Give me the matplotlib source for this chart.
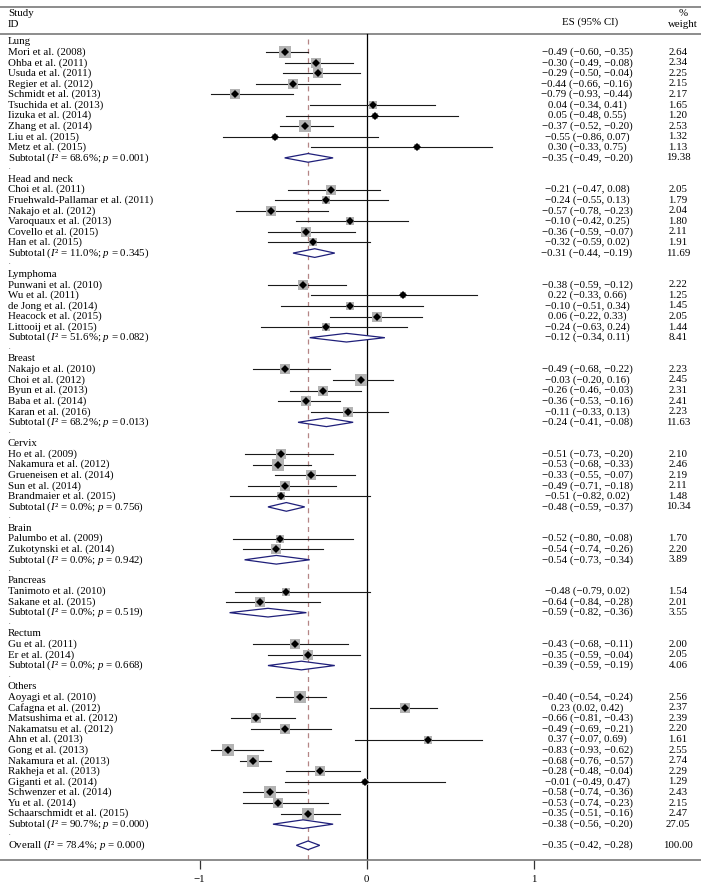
import matplotlib
matplotlib.use("Agg")
import matplotlib.pyplot as plt
from matplotlib.patches import Polygon

# ---------------- data ----------------
group_names = ["Lung", "Head and neck", "Lymphoma", "Breast", "Cervix",
               "Brain", "Pancreas", "Rectum", "Others"]
group_sizes = [10, 6, 5, 5, 5, 2, 2, 2, 12]

study_labels = [
    "Mori et al. (2008)", "Ohba et al. (2011)", "Usuda et al. (2011)", "Regier et al. (2012)",
    "Schmidt et al. (2013)", "Tsuchida et al. (2013)", "Iizuka et al. (2014)", "Zhang et al. (2014)",
    "Liu et al. (2015)", "Metz et al. (2015)",
    "Choi et al. (2011)", "Fruehwald-Pallamar et al. (2011)", "Nakajo et al. (2012)",
    "Varoquaux et al. (2013)", "Covello et al. (2015)", "Han et al. (2015)",
    "Punwani et al. (2010)", "Wu et al. (2011)", "de Jong et al. (2014)", "Heacock et al. (2015)",
    "Littooij et al. (2015)",
    "Nakajo et al. (2010)", "Choi et al. (2012)", "Byun et al. (2013)", "Baba et al. (2014)",
    "Karan et al. (2016)",
    "Ho et al. (2009)", "Nakamura et al. (2012)", "Grueneisen et al. (2014)", "Sun et al. (2014)",
    "Brandmaier et al. (2015)",
    "Palumbo et al. (2009)", "Zukotynski et al. (2014)",
    "Tanimoto et al. (2010)", "Sakane et al. (2015)",
    "Gu et al. (2011)", "Er et al. (2014)",
    "Aoyagi et al. (2010)", "Cafagna et al. (2012)", "Matsushima et al. (2012)",
    "Nakamatsu et al. (2012)", "Ahn et al. (2013)", "Gong et al. (2013)", "Nakamura et al. (2013)",
    "Rakheja et al. (2013)", "Giganti et al. (2014)", "Schwenzer et al. (2014)", "Yu et al. (2014)",
    "Schaarschmidt et al. (2015)",
]
es = [-0.49, -0.30, -0.29, -0.44, -0.79, 0.04, 0.05, -0.37, -0.55, 0.30,
      -0.21, -0.24, -0.57, -0.10, -0.36, -0.32,
      -0.38, 0.22, -0.10, 0.06, -0.24,
      -0.49, -0.03, -0.26, -0.36, -0.11,
      -0.51, -0.53, -0.33, -0.49, -0.51,
      -0.52, -0.54,
      -0.48, -0.64,
      -0.43, -0.35,
      -0.40, 0.23, -0.66, -0.49, 0.37, -0.83, -0.68, -0.28, -0.01, -0.58, -0.53, -0.35]
ci_low = [-0.60, -0.49, -0.50, -0.66, -0.93, -0.34, -0.48, -0.52, -0.86, -0.33,
          -0.47, -0.55, -0.78, -0.42, -0.59, -0.59,
          -0.59, -0.33, -0.51, -0.22, -0.63,
          -0.68, -0.20, -0.46, -0.53, -0.33,
          -0.73, -0.68, -0.55, -0.71, -0.82,
          -0.80, -0.74,
          -0.79, -0.84,
          -0.68, -0.59,
          -0.54, 0.02, -0.81, -0.69, -0.07, -0.93, -0.76, -0.48, -0.49, -0.74, -0.74, -0.51]
ci_high = [-0.35, -0.08, -0.04, -0.16, -0.44, 0.41, 0.55, -0.20, 0.07, 0.75,
           0.08, 0.13, -0.23, 0.25, -0.07, 0.02,
           -0.12, 0.66, 0.34, 0.33, 0.24,
           -0.22, 0.16, -0.03, -0.16, 0.13,
           -0.20, -0.33, -0.07, -0.18, 0.02,
           -0.08, -0.26,
           0.02, -0.28,
           -0.11, -0.04,
           -0.24, 0.42, -0.43, -0.21, 0.69, -0.62, -0.57, -0.04, 0.47, -0.36, -0.23, -0.16]
weight = [2.64, 2.34, 2.25, 2.15, 2.17, 1.65, 1.20, 2.53, 1.32, 1.13,
          2.05, 1.79, 2.04, 1.80, 2.11, 1.91,
          2.22, 1.25, 1.45, 2.05, 1.44,
          2.23, 2.45, 2.31, 2.41, 2.23,
          2.10, 2.46, 2.19, 2.11, 1.48,
          1.70, 2.20,
          1.54, 2.01,
          2.00, 2.05,
          2.56, 2.37, 2.39, 2.20, 1.61, 2.55, 2.74, 2.29, 1.29, 2.43, 2.15, 2.47]

sub_es = [-0.35, -0.31, -0.12, -0.24, -0.48, -0.54, -0.59, -0.39, -0.38]
sub_low = [-0.49, -0.44, -0.34, -0.41, -0.59, -0.73, -0.82, -0.59, -0.56]
sub_high = [-0.20, -0.19, 0.11, -0.08, -0.37, -0.34, -0.36, -0.19, -0.20]
sub_weight = [19.38, 11.69, 8.41, 11.63, 10.34, 3.89, 3.55, 4.06, 27.05]
sub_i2 = ["68.6", "11.0", "51.6", "68.2", "0.0", "0.0", "0.0", "0.0", "90.7"]
sub_p = ["0.001", "0.345", "0.082", "0.013", "0.756", "0.942", "0.519", "0.668", "0.000"]

overall_es, overall_low, overall_high, overall_weight = -0.35, -0.42, -0.28, 100.00
overall_i2, overall_p = "78.4", "0.000"

x_ticks = [-1, 0, 1]
x_ticklabels = ["\u22121", "0", "1"]

# ---------------- style ----------------
plt.rcParams["font.family"] = ["Liberation Serif", "DejaVu Serif"]
plt.rcParams["mathtext.fontset"] = "custom"
plt.rcParams["mathtext.rm"] = "Liberation Serif"
plt.rcParams["mathtext.it"] = "Liberation Serif:italic"
FS = 7.8
W, H = 701, 888
fig = plt.figure(figsize=(W / 100, H / 100), dpi=100)

# pixel geometry
px0, pxu = 366.5, 167.0           # x pixel of 0 and pixels per unit
row1, rowh = 41.55, 10.576         # y pixel of first row and row height
top_px, bot_px = 6.7, 860.0
ax = fig.add_axes([0, (H - bot_px) / H, 1, (bot_px - top_px) / H])
ax.set_xlim(-px0 / pxu, (W - px0) / pxu)
def prow(p):
    return 1 + (p - row1) / rowh
ax.set_ylim(prow(bot_px), prow(top_px))
for s in ["left", "right"]:
    ax.spines[s].set_visible(False)
for s in ["top", "bottom"]:
    ax.spines[s].set_color("#6e6e6e")
    ax.spines[s].set_linewidth(1.1)
ax.set_yticks([])
ax.set_xticks(x_ticks)
ax.set_xticklabels(x_ticklabels, fontsize=FS)
ax.tick_params(axis="x", direction="out", length=6.5, width=0.9, color="#333333", pad=4.5)

def fmt(v):
    return f"{v:.2f}".replace("-", "\u2212")

def es_text(e, l, h):
    return f"{fmt(e)} ({fmt(l)}, {fmt(h)})"

x_lab = 8 / pxu - px0 / pxu
x_es = (587 - px0) / pxu
x_w = (678 - px0) / pxu
sq_col = "#b3b3b3"
dia_col = "#1f1f7a"

# headers
ax.text(x_lab, prow(13.5), "Study", fontsize=FS, va="center", ha="left")
ax.text(x_lab, prow(24.5), "ID", fontsize=FS, va="center", ha="left")
ax.text((590 - px0) / pxu, prow(22.5), "ES (95% CI)", fontsize=FS, va="center", ha="center")
ax.text((683 - px0) / pxu, prow(13.5), "%", fontsize=FS, va="center", ha="center")
ax.text((683 - px0) / pxu, prow(24.5), "weight", fontsize=FS, va="center", ha="center")

# header line and reference lines
ax.axhline(prow(33.7), color="#6e6e6e", lw=1.1)
ax.plot([0, 0], [prow(33.7), prow(bot_px)], color="black", lw=0.9)
ax.plot([overall_es, overall_es], [prow(39), prow(bot_px)], color="#b58585", lw=0.9,
        dashes=(4, 3.5))

row = 1
k = 0
for g, name in enumerate(group_names):
    ax.text(x_lab, row, name, fontsize=FS, va="center", ha="left")
    row += 1
    for j in range(group_sizes[g]):
        ax.plot([ci_low[k], ci_high[k]], [row, row], color="#1a1a1a", lw=0.8, zorder=2)
        side_px = 1.3 + 4.0 * weight[k]
        ax.plot(es[k], row, marker="s", markersize=side_px * 0.72, color=sq_col,
                markeredgewidth=0, linestyle="none", zorder=3)
        ax.plot(es[k], row, marker="D", markersize=3.6, color="black",
                markeredgewidth=0, linestyle="none", zorder=4)
        ax.text(x_lab, row, study_labels[k], fontsize=FS, va="center", ha="left")
        ax.text(x_es, row, es_text(es[k], ci_low[k], ci_high[k]), fontsize=FS,
                va="center", ha="center")
        ax.text(x_w, row, f"{weight[k]:.2f}", fontsize=FS, va="center", ha="center")
        row += 1
        k += 1
    # subtotal
    h = 0.41
    ax.add_patch(Polygon([(sub_low[g], row), (sub_es[g], row - h), (sub_high[g], row),
                          (sub_es[g], row + h)], closed=True, facecolor="white",
                         edgecolor=dia_col, lw=0.9, zorder=3))
    ax.text(x_lab, row, f"Subtotal ($I$\u00b2 = {sub_i2[g]}%; $p$ = {sub_p[g]})",
            fontsize=FS, va="center", ha="left")
    ax.text(x_es, row, es_text(sub_es[g], sub_low[g], sub_high[g]), fontsize=FS,
            va="center", ha="center")
    ax.text(x_w, row, f"{sub_weight[g]:.2f}", fontsize=FS, va="center", ha="center")
    row += 1
    ax.text(x_lab + 1 / pxu, row - 0.1, ".", fontsize=4.5, va="center", ha="left")
    row += 1

# overall
h = 0.41
ax.add_patch(Polygon([(overall_low, row), (overall_es, row - h), (overall_high, row),
                      (overall_es, row + h)], closed=True, facecolor="white",
                     edgecolor=dia_col, lw=0.9, zorder=3))
ax.text(x_lab, row, f"Overall ($I$\u00b2 = {overall_i2}%; $p$ = {overall_p})",
        fontsize=FS, va="center", ha="left")
ax.text(x_es, row, es_text(overall_es, overall_low, overall_high), fontsize=FS,
        va="center", ha="center")
ax.text(x_w, row, f"{overall_weight:.2f}", fontsize=FS, va="center", ha="center")

fig.savefig("out.png", dpi=100)
